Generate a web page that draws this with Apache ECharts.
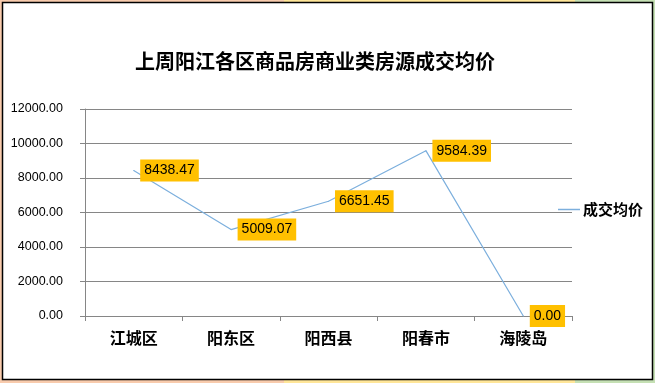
<!DOCTYPE html>
<html><head><meta charset="utf-8">
<script src="https://cdn.jsdelivr.net/npm/echarts@6/dist/echarts.min.js"></script>
<style>html,body{margin:0;padding:0;}#c{width:655px;height:383px;}</style>
</head><body><div id="c"></div>
<script>
const titleText = '上周阳江各区商品房商业类房源成交均价';
const seriesName = '成交均价';
const categories = ['江城区', '阳东区', '阳西县', '阳春市', '海陵岛'];
const values = [8438.47, 5009.07, 6651.45, 9584.39, 0.00];
const yMin = 0, yMax = 12000, yStep = 2000;

const chart = echarts.init(document.getElementById('c'));
const grey = '#868686';
const lineColor = '#7CAFDD';
chart.setOption({
  animation: false,
  graphic: [
    {type:'rect', z:-100, silent:true, shape:{x:0,y:0,width:284,height:383}, style:{fill:'#F8CBAD'}},
    {type:'rect', z:-100, silent:true, shape:{x:284,y:0,width:291,height:383}, style:{fill:'#FFE699'}},
    {type:'rect', z:-100, silent:true, shape:{x:575,y:0,width:80,height:383}, style:{fill:'#C5E0B4'}},
    {type:'rect', z:-99, silent:true, shape:{x:2.5,y:2.5,width:650,height:377}, style:{fill:'#FFFFFF', stroke:'#000', lineWidth:1.5}}
  ],
  title: {
    text: titleText, left: 310, top: 46, textAlign: 'center',
    textStyle: {fontFamily: 'Noto Sans CJK SC', fontWeight: 'bold', fontSize: 20, color: '#000'}
  },
  legend: {
    data: [{name: seriesName, icon: 'rect', itemStyle: {color: lineColor, opacity: 1}}],
    left: 553, top: 197, itemWidth: 22, itemHeight: 1.5, itemGap: 2,
    textStyle: {fontFamily: 'Noto Sans CJK SC', fontWeight: 'bold', fontSize: 15, color: '#000', padding: [0, 0, 0, -2]}
  },
  grid: {left: 85, right: 83, top: 109, bottom: 67, containLabel: false},
  xAxis: {
    type: 'category', data: categories, boundaryGap: true,
    axisLine: {lineStyle: {color: grey, width: 1}},
    axisTick: {show: true, length: 5, lineStyle: {color: grey}},
    axisLabel: {fontFamily: 'Noto Sans CJK SC', fontWeight: 'bold', fontSize: 16, color: '#000', margin: 14}
  },
  yAxis: {
    type: 'value', min: yMin, max: yMax, interval: yStep,
    axisLine: {show: true, lineStyle: {color: grey, width: 1}},
    axisTick: {show: true, length: 5, lineStyle: {color: grey}},
    splitLine: {lineStyle: {color: grey, width: 1}},
    axisLabel: {fontFamily: 'Liberation Sans', fontSize: 12.5, color: '#000', margin: 22,
      formatter: v => Number(v).toFixed(2)}
  },
  series: [{
    name: seriesName, type: 'line', data: values,
    symbol: 'circle', symbolSize: 1, showSymbol: true, showAllSymbol: true,
    lineStyle: {color: lineColor, width: 1.2}, itemStyle: {color: lineColor},
    labelLayout: {hideOverlap: false},
    label: {show: true, position: 'right', distance: 6, opacity: 1,
      backgroundColor: '#FFC000', padding: [4, 4, 4, 4],
      fontFamily: 'Liberation Sans', fontSize: 14, color: '#000',
      formatter: p => Number(p.value).toFixed(2)}
  }]
});
</script></body></html>
